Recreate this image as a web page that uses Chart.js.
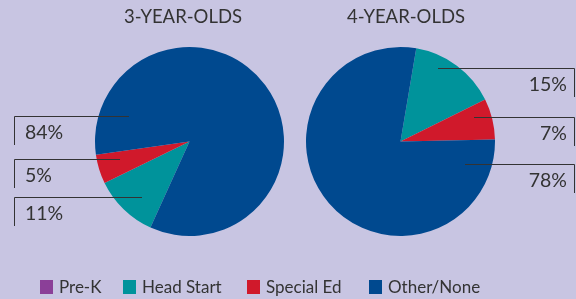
<!DOCTYPE html>
<html><head><meta charset="utf-8">
<script src="https://cdn.jsdelivr.net/npm/chart.js@4/dist/chart.umd.min.js"></script>
<style>
html,body{margin:0;padding:0;background:#c8c5e2;}
#wrap{position:relative;width:576px;height:299px;background:#c8c5e2;overflow:hidden;font-family:Lato,sans-serif;}
canvas{position:absolute;top:0;}
#legend{position:absolute;top:276px;left:0;width:576px;height:20px;font-size:17px;color:#333;}
.li{position:absolute;top:0;display:flex;align-items:center;}
.sw{width:13px;height:14px;margin-right:6px;}
</style></head><body>
<div id="wrap">
<canvas id="c1" width="288" height="299" style="left:0"></canvas>
<canvas id="c2" width="288" height="299" style="left:288px"></canvas>
<div id="legend"></div>
</div>
<script>
const categories = ["Pre-K", "Head Start", "Special Ed", "Other/None"];
const colors = ["#8b3f98", "#00939b", "#d0192b", "#00498f"];
const titles = ["3-YEAR-OLDS", "4-YEAR-OLDS"];
const threeYearOlds = [0, 11, 5, 84];
const fourYearOlds = [0, 15, 7, 78];

// layout for labels: [categoryIndex, lineY, innerX] ; side decides outer edge
const labelLayout = [
  {side:"left", titleX:183, items:[[3,116,129],[2,159,120],[1,197,142]]},
  {side:"right", titleX:118, items:[[1,68,150],[2,117,186],[3,164,177]]}
];

function labelPlugin(idx, values){
  return {id:"labels"+idx, afterDraw(chart){
    const ctx = chart.ctx, L = labelLayout[idx];
    ctx.save();
    ctx.fillStyle = "#333";
    ctx.font = "18.5px Lato, sans-serif";
    ctx.textAlign = "center"; ctx.textBaseline = "middle";
    ctx.fillText(titles[idx], L.titleX, 17);
    ctx.strokeStyle = "#333"; ctx.lineWidth = 1;
    ctx.font = "19.5px Lato, sans-serif";
    L.items.forEach(([ci, y, ix]) => {
      const ex = L.side === "left" ? 14.5 : 286.5;
      ctx.beginPath();
      ctx.moveTo(ix, y+0.5); ctx.lineTo(ex, y+0.5); ctx.lineTo(ex, y+29);
      ctx.stroke();
      const txt = values[ci] + "%";
      if (L.side === "left") { ctx.textAlign = "left"; ctx.fillText(txt, 25, y+17); }
      else { ctx.textAlign = "right"; ctx.fillText(txt, 279, y+17); }
    });
    ctx.restore();
  }};
}

function makePie(id, values, padding, rotation, idx){
  new Chart(document.getElementById(id), {
    type: "pie",
    data: {labels: categories, datasets: [{data: values, backgroundColor: colors, borderWidth: 0}]},
    options: {
      responsive: false, animation: false, rotation: rotation,
      layout: {padding: padding},
      plugins: {legend: {display: false}, tooltip: {enabled: false}}
    },
    plugins: [labelPlugin(idx, values)]
  });
}
makePie("c1", threeYearOlds, {left:95, right:4, top:47, bottom:63}, 204.4, 0);
makePie("c2", fourYearOlds, {left:18, right:81, top:47, bottom:63}, 9.6, 1);

const legendX = [40, 123, 247, 369];
const leg = document.getElementById("legend");
categories.forEach((c, i) => {
  const d = document.createElement("div");
  d.className = "li"; d.style.left = legendX[i] + "px";
  d.innerHTML = '<span class="sw" style="background:' + colors[i] + '"></span><span>' + c + '</span>';
  leg.appendChild(d);
});
</script>
</body></html>
